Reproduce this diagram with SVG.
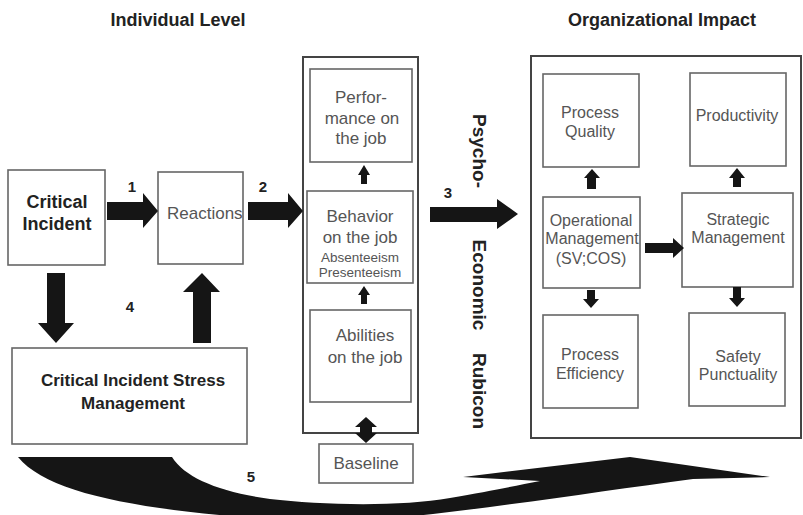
<svg xmlns="http://www.w3.org/2000/svg" width="803" height="515" viewBox="0 0 803 515">
  <style>
    .box { fill: #fff; stroke: #666; stroke-width: 1.6; }
    .frame { fill: none; stroke: #444; stroke-width: 2; }
    .blk { fill: #151515; }
    .t { font-family: "Liberation Sans", Arial, sans-serif; fill: #555; text-anchor: middle; }
    .b { font-family: "Liberation Sans", Arial, sans-serif; font-weight: bold; fill: #222; text-anchor: middle; }
    .num { font-family: "Liberation Sans", Arial, sans-serif; font-weight: bold; fill: #222; font-size: 15px; text-anchor: middle; }
  </style>
  <rect width="803" height="515" fill="#fff"/>

  <!-- Section headings -->
  <text class="b" x="178" y="26" font-size="18">Individual Level</text>
  <text class="b" x="662" y="26" font-size="18">Organizational Impact</text>

  <!-- Outer frames -->
  <rect id="individual-frame" class="frame" x="303" y="57" width="115" height="376"/>
  <rect id="organizational-frame" class="frame" x="531" y="56" width="270" height="382"/>

  <!-- Individual level nodes -->
  <g id="critical-incident">
    <rect class="box" x="8" y="170" width="97" height="95"/>
    <text class="b" x="57" y="208" font-size="18">Critical</text>
    <text class="b" x="57" y="230" font-size="18">Incident</text>
  </g>
  <g id="reactions">
    <text class="t" x="167" y="219" font-size="17" style="text-anchor:start">Reactions</text>
    <rect class="box" x="158" y="172" width="85" height="92" style="fill:none"/>
  </g>
  <g id="cism">
    <rect class="box" x="12" y="348" width="235" height="96"/>
    <text class="b" x="133" y="386" font-size="17">Critical Incident Stress</text>
    <text class="b" x="133" y="409" font-size="17">Management</text>
  </g>
  <g id="performance">
    <rect class="box" x="310" y="69" width="102" height="93"/>
    <text class="t" x="361" y="103" font-size="17">Perfor-</text>
    <text class="t" x="362" y="124" font-size="17">mance on</text>
    <text class="t" x="361" y="144" font-size="17">the job</text>
  </g>
  <g id="behavior">
    <rect class="box" x="307" y="191" width="106" height="92"/>
    <text class="t" x="360" y="222" font-size="17">Behavior</text>
    <text class="t" x="360" y="243" font-size="17">on the job</text>
    <text class="t" x="360" y="262" font-size="13.5">Absenteeism</text>
    <text class="t" x="360" y="277" font-size="13.5">Presenteeism</text>
  </g>
  <g id="abilities">
    <rect class="box" x="310" y="310" width="101" height="92"/>
    <text class="t" x="365" y="341" font-size="17">Abilities</text>
    <text class="t" x="365" y="363" font-size="17">on the job</text>
  </g>
  <g id="baseline">
    <rect class="box" x="319" y="444" width="94" height="39"/>
    <text class="t" x="366" y="469" font-size="17">Baseline</text>
  </g>

  <!-- Psycho-Economic Rubicon (vertical) -->
  <g id="rubicon" class="b" font-size="19">
    <text transform="translate(473,151) rotate(90)">Psycho-</text>
    <text transform="translate(473,285) rotate(90)">Economic</text>
    <text transform="translate(473,391) rotate(90)">Rubicon</text>
  </g>

  <!-- Organizational nodes -->
  <g id="process-quality">
    <rect class="box" x="543" y="74" width="96" height="93"/>
    <text class="t" x="590" y="118" font-size="16">Process</text>
    <text class="t" x="590" y="137" font-size="16">Quality</text>
  </g>
  <g id="productivity">
    <rect class="box" x="690" y="73" width="96" height="93"/>
    <text class="t" x="737" y="121" font-size="16">Productivity</text>
  </g>
  <g id="operational-management">
    <rect class="box" x="543" y="197" width="97" height="91"/>
    <text class="t" x="591" y="226" font-size="16">Operational</text>
    <text class="t" x="592" y="244" font-size="16">Management</text>
    <text class="t" x="591" y="264" font-size="16">(SV;COS)</text>
  </g>
  <g id="strategic-management">
    <rect class="box" x="682" y="193" width="111" height="94"/>
    <text class="t" x="738" y="225" font-size="16">Strategic</text>
    <text class="t" x="738" y="243" font-size="16">Management</text>
  </g>
  <g id="process-efficiency">
    <rect class="box" x="543" y="315" width="95" height="93"/>
    <text class="t" x="590" y="360" font-size="16">Process</text>
    <text class="t" x="590" y="379" font-size="16">Efficiency</text>
  </g>
  <g id="safety-punctuality">
    <rect class="box" x="689" y="313" width="96" height="93"/>
    <text class="t" x="738" y="362" font-size="16">Safety</text>
    <text class="t" x="738" y="380" font-size="16">Punctuality</text>
  </g>

  <!-- Connectors -->
  <g id="connectors" class="blk">
    <!-- 1: incident to reactions -->
    <polygon points="107,202 143,202 143,193 158,211 143,228 143,220 107,220"/>
    <!-- 2: reactions to individual column -->
    <polygon points="248,202 288,202 288,193 303,211 288,228 288,220 248,220"/>
    <!-- 3: across the rubicon -->
    <polygon points="430,207 497,207 497,199 518,214 497,229 497,222 430,222"/>
    <!-- 4: incident down to CISM -->
    <polygon points="47,273 65,273 65,323 74,323 56,343 38,323 47,323"/>
    <!-- CISM up to reactions -->
    <polygon points="193,343 211,343 211,292 220,292 202,273 183,292 193,292"/>
    <!-- column arrows -->
    <polygon points="361,184 367,184 367,175 370,175 364,165 358,175 361,175"/>
    <polygon points="361,304 367,304 367,295 370,295 364,286 358,295 361,295"/>
    <polygon points="366,417 377,427 372,427 372,433 377,433 366,443 355,433 360,433 360,427 355,427"/>
    <!-- organizational arrows -->
    <polygon points="587,189 596,189 596,178 600,178 592,169 584,178 587,178"/>
    <polygon points="733,187 741,187 741,178 745,178 737,168 729,178 733,178"/>
    <polygon points="587,290 595,290 595,299 599,299 591,308 583,299 587,299"/>
    <polygon points="733,287 741,287 741,298 745,298 737,307 729,298 733,298"/>
    <polygon points="645,243 673,243 673,238 684,248 673,258 673,253 645,253"/>
    <!-- 5: feedback swoosh -->
    <path d="M18,457 L172,457 C185,478 220,492 270,499 C320,505 400,507 450,498 C490,491 515,486 540,481 L463,477 L630,457 L770,477 L693,479 C610,490 520,504 433,514 C380,520 300,522 230,516 C120,506 45,490 18,457 Z"/>
  </g>

  <!-- Step numbers -->
  <text class="num" x="132" y="192">1</text>
  <text class="num" x="263" y="192">2</text>
  <text class="num" x="448" y="198">3</text>
  <text class="num" x="130" y="312">4</text>
  <text class="num" x="251" y="482">5</text>
</svg>
